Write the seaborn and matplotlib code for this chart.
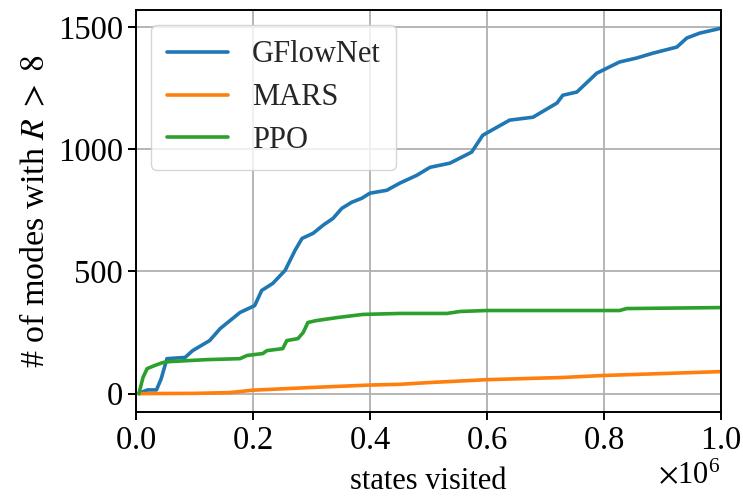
import matplotlib
matplotlib.use("Agg")
import matplotlib.pyplot as plt
import seaborn as sns
import pandas as pd

# x positions in millions of states visited
gfn_x = [0.005, 0.012, 0.02, 0.035, 0.043, 0.053, 0.084, 0.097, 0.126, 0.144, 0.178,
         0.203, 0.215, 0.234, 0.255, 0.272, 0.284, 0.303, 0.32, 0.337, 0.352, 0.369,
         0.386, 0.4, 0.429, 0.451, 0.48, 0.503, 0.537, 0.574, 0.593, 0.639, 0.679,
         0.72, 0.73, 0.754, 0.788, 0.827, 0.856, 0.884, 0.925, 0.942, 0.964, 0.995, 1.0]
gfn_y = [0, 8, 15, 15, 60, 143, 148, 176, 217, 266, 332,
         360, 422, 451, 504, 586, 635, 656, 689, 717, 758, 783,
         799, 820, 832, 861, 893, 926, 943, 988, 1057, 1119, 1131,
         1189, 1221, 1234, 1311, 1357, 1373, 1393, 1418, 1455, 1475, 1492, 1495]

mars_x = [0.005, 0.1, 0.16, 0.2, 0.3, 0.4, 0.451, 0.5, 0.6, 0.73, 0.798, 0.9, 1.0]
mars_y = [0, 1, 4, 14, 25, 35, 38, 45, 57, 66, 74, 82, 90]

ppo_x = [0.005, 0.012, 0.019, 0.032, 0.046, 0.058, 0.121, 0.178, 0.19, 0.217, 0.224,
         0.251, 0.258, 0.277, 0.286, 0.294, 0.309, 0.344, 0.388, 0.451, 0.532, 0.554,
         0.6, 0.827, 0.839, 1.0]
ppo_y = [0, 66, 102, 115, 127, 131, 139, 143, 156, 164, 176,
         184, 217, 225, 250, 291, 299, 311, 324, 328, 328, 336,
         340, 340, 348, 352]

methods = ["GFlowNet", "MARS", "PPO"]
colors = ["#1f77b4", "#ff7f0e", "#2ca02c"]

rows = []
for name, xs, ys in [("GFlowNet", gfn_x, gfn_y), ("MARS", mars_x, mars_y), ("PPO", ppo_x, ppo_y)]:
    for xv, yv in zip(xs, ys):
        rows.append({"states": xv * 1e6, "modes": yv, "method": name})
df = pd.DataFrame(rows)

sns.set_theme(style="ticks")
plt.rcParams["font.family"] = ["Liberation Serif", "DejaVu Serif"]
plt.rcParams["mathtext.fontset"] = "stix"
plt.rcParams["font.size"] = 23

fig, ax = plt.subplots(figsize=(7.43, 4.96), dpi=100)
fig.subplots_adjust(left=0.183, right=0.970, bottom=0.169, top=0.980)

sns.lineplot(data=df, x="states", y="modes", hue="method", hue_order=methods,
             palette=colors, estimator=None, sort=True, linewidth=2.6, ax=ax)

ax.set_xlim(0, 1e6)
ax.set_ylim(-76, 1570)
ax.set_yticks([0, 500, 1000, 1500])
ax.set_xticks([0, 2e5, 4e5, 6e5, 8e5, 1e6])
ax.ticklabel_format(axis="x", style="sci", scilimits=(6, 6), useMathText=True)
ax.grid(True, color="#b0b0b0", linewidth=1.3)
for s in ax.spines.values():
    s.set_color("black")
    s.set_linewidth(1.4)
    s.set_visible(True)
ax.tick_params(axis="both", labelsize=23.5, length=6, width=1.4, color="black",
               labelcolor="black", direction="out")
ax.xaxis.get_offset_text().set_fontsize(22)
ax.set_xlabel("states visited", fontsize=22, color="black", labelpad=8)
ax.set_ylabel(r"# of modes with $R\;>\;8$", fontsize=24.5, color="black", labelpad=5)

leg = ax.legend(loc="upper left", fontsize=22, frameon=True, handlelength=2.0,
                borderpad=0.5, labelspacing=0.45, handletextpad=0.8)
leg.get_frame().set_alpha(0.8)
leg.get_frame().set_edgecolor("#cccccc")
for line in leg.get_lines():
    line.set_linewidth(2.6)

fig.savefig("out.png", dpi=100)
